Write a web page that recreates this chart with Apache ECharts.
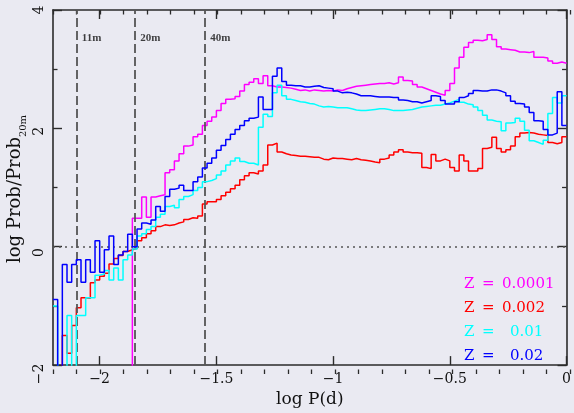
<!DOCTYPE html>
<html>
<head>
<meta charset="utf-8">
<script src="https://cdn.jsdelivr.net/npm/echarts@6/dist/echarts.min.js"></script>
<style>
  html, body { margin: 0; padding: 0; background: #eaeaf2; }
  #chart { width: 574px; height: 413px; }
</style>
</head>
<body>
<div id="chart"></div>
<script>
// Histogram binning in log P (days)
const binStart = -2.2;
const binWidth = 0.02;

// Legend labels (metallicity) and line colours
const metallicities = ['0.0001', '0.002', '0.01', '0.02'];
const seriesColors = ['#ff00ff', '#ff0000', '#00ffff', '#0000ff'];

// log Prob / Prob_20m per bin; -3 marks bins far below the plotted range
const probZ0001 = [
  -3, -3, -3, -3, -3, -3, -3, -3, -3, -3,
  -3, -3, -3, -3, -3, -3, -3, 0.48, 0.48, 0.84,
  0.50, 0.84, 0.86, 0.88, 1.25, 1.30, 1.45, 1.57, 1.70, 1.72,
  1.86, 1.90, 2.05, 2.12, 2.19, 2.30, 2.42, 2.49, 2.50, 2.54,
  2.63, 2.74, 2.78, 2.84, 2.76, 2.89, 2.72, 2.70, 2.70, 2.69,
  2.68, 2.66, 2.64, 2.65, 2.63, 2.65, 2.64, 2.63, 2.64, 2.63,
  2.65, 2.64, 2.67, 2.69, 2.71, 2.72, 2.73, 2.74, 2.75, 2.76,
  2.76, 2.77, 2.75, 2.77, 2.87, 2.81, 2.80, 2.74, 2.70, 2.67,
  2.64, 2.61, 2.58, 2.56, 2.64, 2.76, 3.02, 3.20, 3.37, 3.45,
  3.49, 3.48, 3.50, 3.58, 3.50, 3.38, 3.34, 3.33, 3.32, 3.29,
  3.29, 3.28, 3.30, 3.20, 3.20, 3.19, 3.14, 3.10, 3.12, 3.10
];
const probZ002 = [
  -3, -3, -1.50, -1.80, -1.33, -1.03, -0.86, -0.87, -0.61, -0.56,
  -0.50, -0.45, -0.29, -0.20, -0.15, -0.08, -0.05, -0.03, 0.10, 0.15,
  0.22, 0.27, 0.34, 0.37, 0.36, 0.37, 0.40, 0.42, 0.46, 0.49,
  0.48, 0.52, 0.72, 0.76, 0.76, 0.80, 0.86, 0.92, 0.98, 1.04,
  1.13, 1.20, 1.25, 1.23, 1.28, 1.38, 1.72, 1.75, 1.60, 1.57,
  1.55, 1.54, 1.53, 1.53, 1.52, 1.51, 1.51, 1.48, 1.47, 1.50,
  1.49, 1.49, 1.48, 1.47, 1.49, 1.47, 1.46, 1.45, 1.43, 1.42,
  1.48, 1.50, 1.55, 1.60, 1.64, 1.60, 1.59, 1.59, 1.58, 1.34,
  1.32, 1.56, 1.45, 1.48, 1.45, 1.34, 1.28, 1.55, 1.45, 1.28,
  1.28, 1.32, 1.66, 1.68, 1.85, 1.66, 1.60, 1.64, 1.70, 1.86,
  1.92, 1.93, 1.92, 1.90, 1.89, 1.88, 1.76, 1.74, 1.76, 1.86
];
const probZ01 = [
  -1.00, -3, -3, -1.16, -3, -1.16, -1.16, -0.86, -0.86, -0.48,
  -0.46, -0.40, -0.56, -0.36, -0.56, -0.22, -0.14, -0.04, 0.18, 0.22,
  0.29, 0.34, 0.50, 0.55, 0.68, 0.70, 0.66, 0.80, 0.85, 0.88,
  0.95, 1.00, 1.10, 1.12, 1.15, 1.21, 1.28, 1.38, 1.45, 1.50,
  1.44, 1.41, 1.41, 1.38, 2.02, 2.24, 2.20, 2.60, 2.73, 2.55,
  2.49, 2.47, 2.45, 2.44, 2.42, 2.41, 2.38, 2.36, 2.37, 2.36,
  2.35, 2.35, 2.35, 2.33, 2.31, 2.30, 2.30, 2.31, 2.32, 2.33,
  2.33, 2.32, 2.30, 2.30, 2.30, 2.31, 2.32, 2.34, 2.36, 2.37,
  2.38, 2.39, 2.39, 2.41, 2.43, 2.46, 2.49, 2.44, 2.41, 2.40,
  2.36, 2.30, 2.22, 2.14, 2.12, 2.11, 1.96, 2.09, 2.10, 2.17,
  2.12, 1.97, 1.79, 1.76, 1.73, 1.80, 2.25, 2.52, 2.43, 2.55
];
const probZ02 = [
  -0.89, -3, -0.30, -0.60, -0.30, -0.22, -0.60, -0.22, -0.43, 0.10,
  -0.43, -0.05, 0.18, -0.30, -0.14, -0.08, 0.21, 0.00, 0.30, 0.40,
  0.38, 0.45, 0.68, 0.60, 0.85, 0.97, 0.99, 1.04, 0.95, 0.95,
  1.10, 1.18, 1.33, 1.41, 1.50, 1.63, 1.71, 1.81, 1.90, 1.98,
  2.05, 2.13, 2.17, 2.19, 2.53, 2.32, 2.32, 2.88, 3.02, 2.79,
  2.73, 2.72, 2.72, 2.70, 2.70, 2.71, 2.72, 2.69, 2.68, 2.67,
  2.63, 2.60, 2.61, 2.60, 2.58, 2.55, 2.55, 2.55, 2.54, 2.53,
  2.53, 2.53, 2.52, 2.52, 2.48, 2.47, 2.45, 2.45, 2.43, 2.45,
  2.47, 2.55, 2.54, 2.47, 2.41, 2.41, 2.45, 2.52, 2.55, 2.59,
  2.64, 2.63, 2.63, 2.65, 2.65, 2.63, 2.60, 2.55, 2.46, 2.42,
  2.41, 2.36, 2.27, 2.13, 2.12, 1.98, 1.89, 1.92, 2.62, 2.05
];
const seriesValues = [probZ0001, probZ002, probZ01, probZ02];

// Reference periods (vertical dashed lines) and their labels
const cutoffs = [-2.1, -1.85, -1.55];
const cutoffLabels = ['11m', '20m', '40m'];

// Axis ticks
const xMajorTicks = [-2, -1.5, -1, -0.5, 0];

const SERIF = 'DejaVu Serif';
const INK = '#111';
const FRAME = '#2b2b2b';

// Each histogram is drawn as a step line through its bin edges.
function stepPoints(values) {
  const pts = values.map((v, i) => [Number((binStart + i * binWidth).toFixed(4)), v]);
  pts.push([0, values[values.length - 1]]);
  return pts;
}

const minusFmt = v => String(v).replace('-', '\u2212');

const grid = { left: 53, top: 10, width: 517, height: 364 };

const lineSeries = seriesValues.map((vals, k) => ({
  type: 'line',
  xAxisIndex: 0,
  yAxisIndex: 0,
  step: 'end',
  symbol: 'none',
  clip: true,
  z: 3 + k,
  data: stepPoints(vals),
  lineStyle: { color: seriesColors[k], width: 1.5 },
  itemStyle: { color: seriesColors[k] }
}));

const legendRowsY = [284, 308, 332.5, 356.5];
const legendValueX = [502, 502, 510, 510];
const legendGraphics = [];
metallicities.forEach((m, k) => {
  const common = { font: '15px "' + SERIF + '"', fill: seriesColors[k], verticalAlign: 'middle', textVerticalAlign: 'middle' };
  legendGraphics.push({ type: 'text', x: 464, y: legendRowsY[k], style: Object.assign({ text: 'Z' }, common) });
  legendGraphics.push({ type: 'text', x: 482, y: legendRowsY[k], style: Object.assign({ text: '=' }, common) });
  legendGraphics.push({ type: 'text', x: legendValueX[k], y: legendRowsY[k], style: Object.assign({ text: m }, common) });
});

const frameLine = { show: true, onZero: false, lineStyle: { color: FRAME, width: 1.6 } };
const hiddenLine = { show: false, onZero: false };

const option = {
  backgroundColor: '#eaeaf2',
  animation: false,
  grid: [Object.assign({}, grid), Object.assign({}, grid)],
  xAxis: [
    {
      gridIndex: 0, type: 'value', position: 'bottom', min: -2.2, max: 0,
      name: 'log P(d)', nameLocation: 'middle', nameGap: 24,
      nameTextStyle: { fontFamily: SERIF, fontSize: 17, color: INK },
      axisLine: frameLine,
      axisTick: { show: true, inside: true, length: 9, customValues: xMajorTicks, lineStyle: { color: FRAME, width: 1.4 } },
      axisLabel: { show: true, customValues: xMajorTicks, margin: 7, fontFamily: SERIF, fontSize: 14, color: INK, formatter: minusFmt },
      splitLine: { show: false }
    },
    {
      gridIndex: 0, type: 'value', position: 'top', min: -2.2, max: 0,
      axisLine: frameLine,
      axisTick: { show: true, inside: true, length: 9, customValues: xMajorTicks, lineStyle: { color: FRAME, width: 1.4 } },
      axisLabel: { show: false },
      splitLine: { show: false }
    },
    {
      gridIndex: 1, type: 'value', position: 'bottom', min: -2.2, max: 0, interval: 0.1,
      axisLine: hiddenLine,
      axisTick: { show: true, inside: true, length: 4.5, lineStyle: { color: FRAME, width: 1.3 } },
      axisLabel: { show: false },
      splitLine: { show: false }
    },
    {
      gridIndex: 1, type: 'value', position: 'top', min: -2.2, max: 0, interval: 0.1,
      axisLine: hiddenLine,
      axisTick: { show: true, inside: true, length: 4.5, lineStyle: { color: FRAME, width: 1.3 } },
      axisLabel: { show: false },
      splitLine: { show: false }
    }
  ],
  yAxis: [
    {
      gridIndex: 0, type: 'value', position: 'left', min: -2, max: 4, interval: 2,
      axisLine: frameLine,
      axisTick: { show: true, inside: true, length: 9, lineStyle: { color: FRAME, width: 1.4 } },
      minorTick: { show: true, splitNumber: 2, length: 4.5, lineStyle: { color: FRAME, width: 1.3 } },
      axisLabel: { show: false },
      splitLine: { show: false }
    },
    {
      gridIndex: 0, type: 'value', position: 'right', min: -2, max: 4, interval: 2,
      axisLine: frameLine,
      axisTick: { show: true, inside: true, length: 9, lineStyle: { color: FRAME, width: 1.4 } },
      minorTick: { show: true, splitNumber: 2, length: 4.5, lineStyle: { color: FRAME, width: 1.3 } },
      axisLabel: { show: false },
      splitLine: { show: false }
    },
    {
      // tick labels of the left axis, written upright along the axis
      gridIndex: 1, type: 'value', position: 'left', min: -2, max: 4, interval: 2,
      axisLine: hiddenLine,
      axisTick: { show: false },
      axisLabel: {
        show: true, rotate: 90, margin: 7, fontFamily: SERIF, fontSize: 14, color: INK, formatter: minusFmt,
        showMinLabel: true, showMaxLabel: true
      },
      splitLine: { show: false }
    }
  ],
  series: [
    {
      // period markers: labels plus dashed verticals and the zero line
      type: 'scatter',
      xAxisIndex: 0,
      yAxisIndex: 0,
      z: 1,
      symbolSize: 1,
      itemStyle: { color: 'rgba(0,0,0,0)' },
      data: cutoffs.map((c, i) => ({ value: [c, 3.53], name: cutoffLabels[i] })),
      label: {
        show: true, position: 'right', distance: 5,
        formatter: p => p.name,
        fontFamily: 'Liberation Serif', fontWeight: 'bold', fontSize: 11, color: INK
      },
      markLine: {
        silent: true,
        symbol: ['none', 'none'],
        label: { show: false },
        lineStyle: { color: '#555', width: 1.8, type: [9, 4] },
        data: cutoffs.map(c => ({ xAxis: c })).concat([
          { yAxis: 0, lineStyle: { color: '#555', width: 1.6, type: [2, 4] } }
        ])
      }
    }
  ].concat(lineSeries),
  graphic: [
    {
      type: 'text', x: 15, y: 200, rotation: Math.PI / 2,
      style: { text: 'log Prob/Prob', font: '18px "' + SERIF + '"', fill: INK,
               align: 'center', verticalAlign: 'middle', textAlign: 'center', textVerticalAlign: 'middle' }
    },
    {
      type: 'text', x: 23, y: 126, rotation: Math.PI / 2,
      style: { text: '20m', font: '10px "' + SERIF + '"', fill: INK,
               align: 'center', verticalAlign: 'middle', textAlign: 'center', textVerticalAlign: 'middle' }
    }
  ].concat(legendGraphics)
};

const chart = echarts.init(document.getElementById('chart'), null, { renderer: 'canvas' });
chart.setOption(option);
</script>
</body>
</html>
